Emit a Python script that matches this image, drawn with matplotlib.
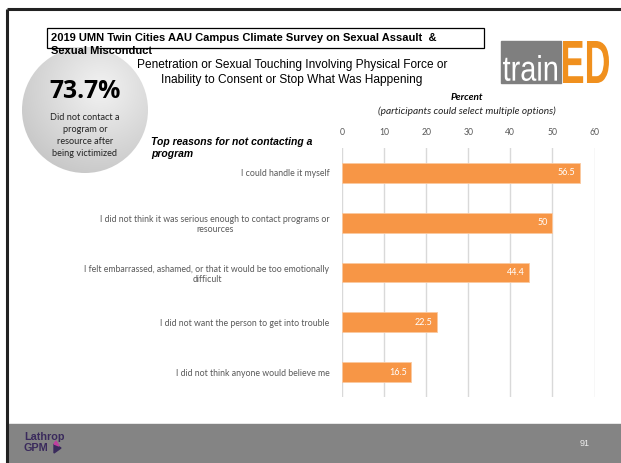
import numpy as np
import matplotlib
matplotlib.use("Agg")
import matplotlib.pyplot as plt
from matplotlib.patches import Rectangle, Circle, PathPatch
from matplotlib.textpath import TextPath
from matplotlib.font_manager import FontProperties
from matplotlib.transforms import Affine2D

# ---------- данные ----------
reasons = [
    "I could handle it myself",
    "I did not think it was serious enough to contact programs or\nresources",
    "I felt embarrassed, ashamed, or that it would be too emotionally\ndifficult",
    "I did not want the person to get into trouble",
    "I did not think anyone would believe me",
]
percents = [56.5, 50, 44.4, 22.5, 16.5]
x_ticks = [0, 10, 20, 30, 40, 50, 60]

W, H = 621, 463
BAR = "#F79646"
GRID = "#D9D9D9"
TXT = "#595959"


def squeezed_text(ax, s, x0, y0, w, h, color, weight="normal"):
    """Текст, вписанный в прямоугольник (x0 — лево, y0 — низ в пикселях)."""
    tp = TextPath((0, 0), s, size=10,
                  prop=FontProperties(family="Liberation Sans", weight=weight))
    bb = tp.get_extents()
    tr = (Affine2D().translate(-bb.x0, -bb.y0)
          .scale(w / bb.width, -h / bb.height).translate(x0, y0))
    ax.add_patch(PathPatch(tr.transform_path(tp), color=color, lw=0, zorder=3))


fig = plt.figure(figsize=(W / 100, H / 100), dpi=100)

# фон-слайд в пикселях
bg = fig.add_axes([0, 0, 1, 1])
bg.axis("off")

# рамка слайда
bg.plot([7, 7], [9, H], color="#222222", lw=2.2, solid_capstyle="butt")
bg.plot([7, W], [9, 9], color="#222222", lw=2.2, solid_capstyle="butt")

# футер
bg.add_patch(Rectangle((8, 424), W - 8, H - 424, color="#848484", zorder=1))
bg.text(24, 437, "Lathrop", fontsize=7.8, color="#3A2A5C", fontweight="bold",
        family="Liberation Sans", va="center", ha="left", zorder=3)
bg.text(24, 448, "GPM", fontsize=7.8, color="#3A2A5C", fontweight="bold",
        family="Liberation Sans", va="center", ha="left", zorder=3)
bg.add_patch(plt.Polygon([[54, 444], [61, 448], [54, 453]], color="#3A2A5C", zorder=3))
bg.add_patch(plt.Polygon([[54, 444], [59, 446], [56, 441]], color="#C03FA0", zorder=3))
bg.text(585, 444, "91", fontsize=6.5, color="#EEEEEE", va="center", ha="center",
        family="Liberation Sans")

# заголовок в рамке
bg.add_patch(Rectangle((47, 28), 437, 20, fill=False, ec="black", lw=0.9))
bg.text(51, 38, "2019 UMN Twin Cities AAU Campus Climate Survey on Sexual Assault  &",
        fontsize=8.0, fontweight="bold", family="Liberation Sans", va="center")
bg.text(51, 51, "Sexual Misconduct", fontsize=8.0, fontweight="bold",
        family="Liberation Sans", va="center")

bg.text(292, 65, "Penetration or Sexual Touching Involving Physical Force or",
        fontsize=8.6, family="Liberation Sans", ha="center", va="center")
bg.text(292, 80, "Inability to Consent or Stop What Was Happening",
        fontsize=8.6, family="Liberation Sans", ha="center", va="center")

# круг с радиальным градиентом
cx, cy, r = 85, 110, 63
yy, xx = np.mgrid[-1:1:240j, -1:1:240j]
d = np.hypot(xx - 0.25, yy + 0.35) / 1.9
g = np.clip(0.95 - 0.22 * d, 0, 1)
rgb = np.dstack([g, g, g])
img = bg.imshow(rgb, extent=(cx - r, cx + r, cy + r, cy - r), zorder=2)
circ = Circle((cx, cy), r, transform=bg.transData, fc="none", ec="none")
bg.add_patch(circ)
img.set_clip_path(circ)
bg.text(cx, 92, "73.7%", fontsize=17.8, fontweight="bold", family="Open Sans",
        ha="center", va="center", zorder=3)
for i, line in enumerate(["Did not contact a", "program or",
                          "resource after", "being victimized"]):
    bg.text(cx, 117 + 12.2 * i, line, fontsize=6.6, family="Lato",
            ha="center", va="center", color="#222222", zorder=3)

# логотип trainED
bg.add_patch(Rectangle((501, 41), 60, 42, color="#7F7F7F", zorder=2))
squeezed_text(bg, "train", 503, 81, 54, 26, "white")
squeezed_text(bg, "ED", 563, 83, 46, 42, "#F0901E", weight="bold")

# подписи над графиком
bg.text(467, 98, "Percent", fontsize=7.2, fontweight="bold", style="italic",
        family="Lato", ha="center", va="center")
bg.text(467, 111, "(participants could select multiple options)", fontsize=7.3,
        style="italic", family="Lato", ha="center", va="center", color="#222222")
bg.text(151, 142, "Top reasons for not contacting a", fontsize=7.5, fontweight="bold",
        style="italic", family="Liberation Sans", ha="left", va="center")
bg.text(151, 154, "program", fontsize=7.5, fontweight="bold",
        style="italic", family="Liberation Sans", ha="left", va="center")

bg.set_xlim(0, W)
bg.set_ylim(H, 0)

# ---------- график ----------
ax = fig.add_axes([342 / W, 1 - 397 / H, 252.5 / W, 249 / H])
ypos = np.arange(len(reasons))
ax.barh(ypos, percents, height=0.4, color=BAR, edgecolor="#FBC9A0", lw=0.6, zorder=3)
ax.set_xlim(0, 60)
ax.set_ylim(len(reasons) - 0.5, -0.5)
ax.set_xticks(x_ticks)
ax.xaxis.tick_top()
ax.tick_params(axis="x", length=0, labelsize=6.2, labelcolor=TXT, pad=8)
for t in ax.get_xticklabels():
    t.set_family("Lato")
ax.set_yticks(ypos)
ax.set_yticklabels(reasons, fontsize=6.3, color=TXT, family="Lato",
                   multialignment="center")
ax.tick_params(axis="y", length=0, pad=9)
ax.grid(axis="x", color=GRID, lw=1, zorder=0)
for s in ax.spines.values():
    s.set_visible(False)
ax.set_facecolor("none")

for y, v in zip(ypos, percents):
    ax.text(v - 1, y, ("%g" % v), color="white", fontsize=6.5, family="Lato",
            ha="right", va="center", zorder=4)

fig.savefig("out.png", dpi=100)
